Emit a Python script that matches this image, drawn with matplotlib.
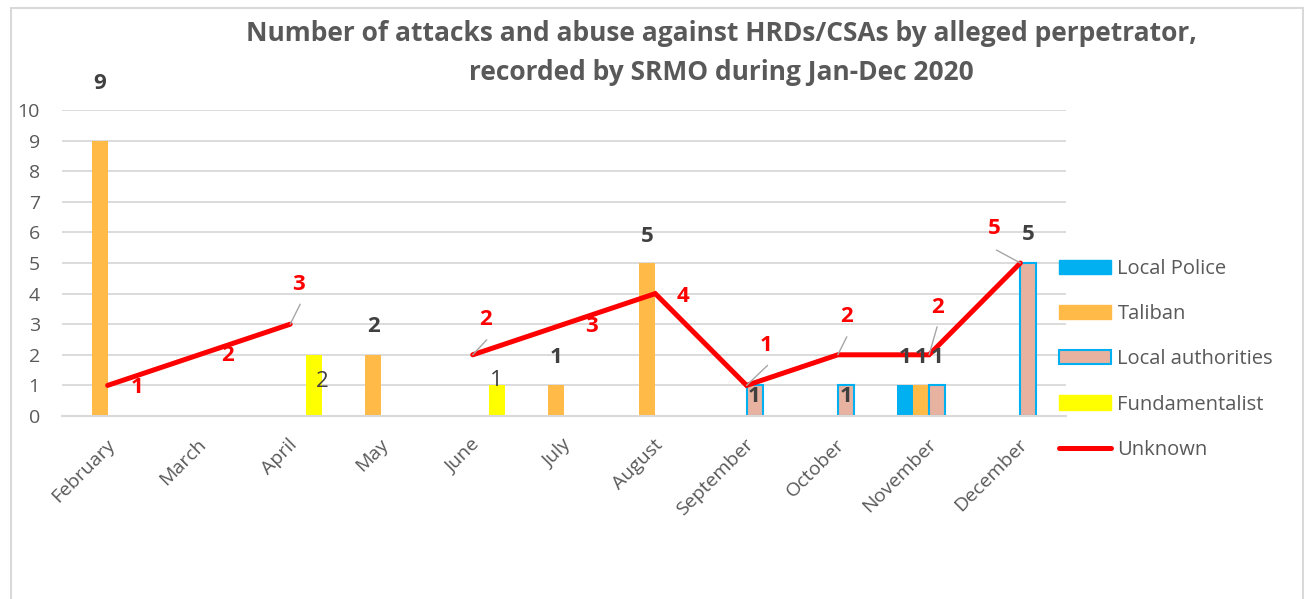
import matplotlib
matplotlib.use('Agg')
import matplotlib.pyplot as plt
import numpy as np
from matplotlib import font_manager
from matplotlib.patches import Rectangle, Patch
from matplotlib.lines import Line2D
from matplotlib.transforms import ScaledTranslation

# data
months = ['February', 'March', 'April', 'May', 'June', 'July', 'August',
          'September', 'October', 'November', 'December']
local_police = [0, 0, 0, 0, 0, 0, 0, 0, 0, 1, 0]
taliban = [9, 0, 0, 2, 0, 1, 5, 0, 0, 1, 0]
local_authorities = [0, 0, 0, 0, 0, 0, 0, 1, 1, 1, 5]
fundamentalist = [0, 0, 2, 0, 1, 0, 0, 0, 0, 0, 0]
unknown = [1, 2, 3, np.nan, 2, 3, 4, 1, 2, 2, 5]

names = [f.name for f in font_manager.fontManager.ttflist]
base_font = 'Open Sans' if 'Open Sans' in names else 'DejaVu Sans'
plt.rcParams['font.family'] = [base_font, 'DejaVu Sans']

grey_txt = '#595959'
dark_txt = '#404040'
grid_c = '#D9D9D9'

fig = plt.figure(figsize=(13.04, 5.99), dpi=100)
ax = fig.add_axes([62 / 1304, 1 - 416 / 599, 1004 / 1304, 306 / 599])

x = np.arange(len(months))
w = 0.175
series = [
    ('Local Police', local_police, -1.5, dict(color='#00B0F0')),
    ('Taliban', taliban, -0.5, dict(color='#FFBA47')),
    ('Local authorities', local_authorities, 0.5,
     dict(facecolor='#E8B2A0', edgecolor='#00B0F0', linewidth=1.5)),
    ('Fundamentalist', fundamentalist, 1.5, dict(color='#FFFF00')),
]

# bar label offsets in pixels from the bar top (dx, dy, bold)
bar_label_pos = {
    ('Taliban', 0): (0, 57, True),
    ('Fundamentalist', 2): (8, -27, False),
    ('Taliban', 3): (0, 28, True),
    ('Fundamentalist', 4): (0, 5, False),
    ('Taliban', 5): (0, 28, True),
    ('Taliban', 6): (0, 27, True),
    ('Local authorities', 7): (0, -11, True),
    ('Local authorities', 8): (0, -11, True),
    ('Local Police', 9): (0, 28, True),
    ('Taliban', 9): (0, 28, True),
    ('Local authorities', 9): (0, 28, True),
    ('Local authorities', 10): (0, 28, True),
}

handles = []
for name, vals, off, style in series:
    idx = [i for i, v in enumerate(vals) if v > 0]
    ax.bar(x[idx] + off * w, [vals[i] for i in idx], width=w, zorder=2, **style)
    handles.append(Patch(label=name, **style))
    for i in idx:
        dx, dy, bold = bar_label_pos[(name, i)]
        ax.annotate(str(vals[i]), xy=(x[i] + off * w, vals[i]),
                    xytext=(dx, dy), textcoords='offset pixels',
                    ha='center', va='center', fontsize=16, color=dark_txt,
                    fontweight='bold' if bold else 'normal', zorder=5)

ax.plot(x, unknown, color='#FF0000', lw=3.6, solid_capstyle='round',
        solid_joinstyle='miter', zorder=3)
handles.append(Line2D([], [], color='#FF0000', lw=3.6, solid_capstyle='round',
                      label='Unknown'))

# line label offsets (pixels) and optional leader line ends
line_label_pos = [(29, -2), (29, -1), (8, 40), None, (13, 35), (28, -2),
                  (28, -3), (20, 40), (9, 38), (8, 47), (-26, 34)]
leaders = {2: (10, 20), 4: (14, 15), 7: (21, 20), 8: (9, 18), 9: (8, 28),
           10: (-24, 13)}
for i, v in enumerate(unknown):
    if np.isnan(v):
        continue
    if i in leaders:
        ax.annotate('', xy=(x[i], v), xytext=leaders[i], textcoords='offset pixels',
                    arrowprops=dict(arrowstyle='-', color='#A6A6A6', lw=1,
                                    shrinkA=0, shrinkB=0), zorder=4)
    ax.annotate(str(int(v)), xy=(x[i], v), xytext=line_label_pos[i],
                textcoords='offset pixels', ha='center', va='center',
                fontsize=16, fontweight='bold', color='#FF0000', zorder=5)

ax.set_xlim(-0.5, len(months) - 0.5)
ax.set_ylim(0, 10)
ax.set_yticks(range(0, 11))
ax.grid(axis='y', color=grid_c, lw=1.3)
ax.set_axisbelow(True)
for s in ['left', 'right', 'top']:
    ax.spines[s].set_visible(False)
ax.spines['bottom'].set_color(grid_c)
ax.spines['bottom'].set_linewidth(1.5)
ax.tick_params(axis='both', length=0, colors=grey_txt, labelsize=14)
ax.tick_params(axis='y', pad=16)
ax.tick_params(axis='x', pad=14)
ax.set_xticks(x)
ax.set_xticklabels(months, rotation=45, ha='right', va='top', rotation_mode='anchor')
shift = ScaledTranslation(-2 / 100, 0, fig.dpi_scale_trans)
for lab in ax.get_xticklabels():
    lab.set_transform(lab.get_transform() + shift)

fig.legend(handles=handles, loc='upper left',
           bbox_to_anchor=(1059 / 1304, 1 - 259 / 599), frameon=False,
           fontsize=14.5, labelcolor=grey_txt, borderpad=0, borderaxespad=0,
           handlelength=2.6, handleheight=0.7, handletextpad=0.3,
           labelspacing=1.25)

fig.text(721 / 1304, 1 - 53 / 599,
         'Number of attacks and abuse against HRDs/CSAs by alleged perpetrator,\n'
         'recorded by SRMO during Jan-Dec 2020',
         ha='center', va='center', fontsize=19, fontweight='bold',
         color=grey_txt, linespacing=1.55)

fig.patches.append(Rectangle((11 / 1304, -0.02), 1292 / 1304, 1.02 - 8 / 599,
                             transform=fig.transFigure, fill=False,
                             edgecolor=grid_c, lw=1.5))

fig.savefig('out.png', dpi=100)
